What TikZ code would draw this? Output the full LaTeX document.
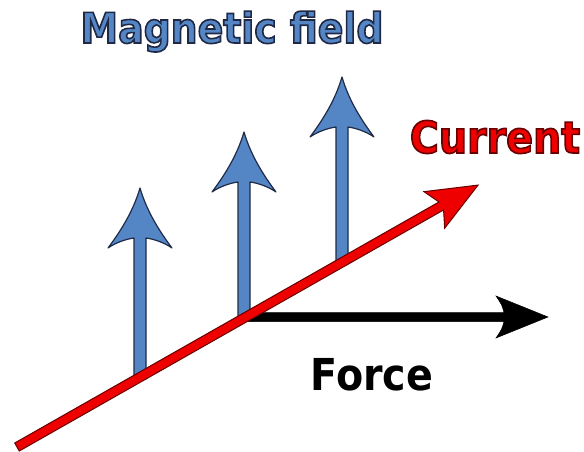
\documentclass[tikz,border=0pt]{standalone}
\usepackage{fontspec}
\usepackage{tikz}
\usetikzlibrary{calc, positioning}
\usepackage{xcolor}
\newfontfamily\labelfont{DejaVu Sans Condensed}
\definecolor{colField}{RGB}{84, 134, 198}
\definecolor{colFieldEdge}{RGB}{30, 42, 70}
\definecolor{colCurrent}{RGB}{238, 0, 0}
\definecolor{colCurrentEdge}{RGB}{105, 0, 0}
% contour of the letters (fill + stroke)
\newcommand{\outlined}[2]{\special{pdf:literal direct #1 RG 1.6 w 2 Tr}#2\special{pdf:literal direct 0 Tr}}

\begin{document}
\begin{tikzpicture}[
  x=1pt, y=-1pt,
  bigword/.style={font=\labelfont\bfseries\fontsize{44}{44}\selectfont,
                  inner sep=0pt, anchor=base},
  fieldarrow/.style={fill=colField, draw=colFieldEdge, line width=1.2pt,
                     line join=round},
  curarrow/.style={fill=colCurrent, draw=colCurrentEdge, line width=1pt,
                   line join=miter},
  forcearrow/.style={fill=black, draw=black, line width=0.5pt}
]
\useasboundingbox (0,0) rectangle (584,452);

% ---------- Points de base ----------
\coordinate (curS) at (17,447);
\coordinate (curT) at (478,185);
\coordinate (forceS) at (244,317);
\coordinate (forceT) at (548,317);

% ---------- Fleches du champ (bleu) ----------
\foreach \x/\t/\b in {140/188/379, 244/132/320, 342/77/264}{
  \draw[fieldarrow]
    (\x-6,\b) -- (\x-6,\t+50)
    .. controls (\x-14,\t+51) and (\x-25,\t+55) .. (\x-32,\t+60)
    .. controls (\x-20,\t+44) and (\x-7,\t+24) .. (\x,\t)
    .. controls (\x+7,\t+24) and (\x+20,\t+44) .. (\x+32,\t+60)
    .. controls (\x+25,\t+55) and (\x+14,\t+51) .. (\x+6,\t+50)
    -- (\x+6,\b) -- cycle;
}

% ---------- Fleche de la force (noir) ----------
\draw[forcearrow]
  ([yshift=-4.5pt]forceS) -- ([xshift=-44pt, yshift=-4.5pt]forceT)
  .. controls ([xshift=-46pt, yshift=-12pt]forceT) .. ([xshift=-52pt, yshift=-21pt]forceT)
  -- (forceT)
  -- ([xshift=-52pt, yshift=21pt]forceT)
  .. controls ([xshift=-46pt, yshift=12pt]forceT) .. ([xshift=-44pt, yshift=4.5pt]forceT)
  -- ([yshift=4.5pt]forceS) -- cycle;

% ---------- Fleche du courant (rouge), dans le repere tourne ----------
\begin{scope}[shift={(curS)}, rotate=29.6]
  \draw[curarrow]
    (0,-4.6) -- (488,-4.6) -- (480,-21) -- (530.3,0)
    -- (480,21) -- (488,4.6) -- (0,4.6) -- cycle;
\end{scope}

% ---------- Etiquettes ----------
\node[bigword, colField, font=\labelfont\bfseries\fontsize{42}{42}\selectfont]
  (labField) at (232,43)
  {\outlined{0.12 0.16 0.27}{Magnetic field}};
\node[bigword, colCurrent] (labCur) at (495,153)
  {\outlined{0.41 0 0}{Current}};
\node[bigword, black] (labForce) at (372,390) {Force};

\end{tikzpicture}
\end{document}
